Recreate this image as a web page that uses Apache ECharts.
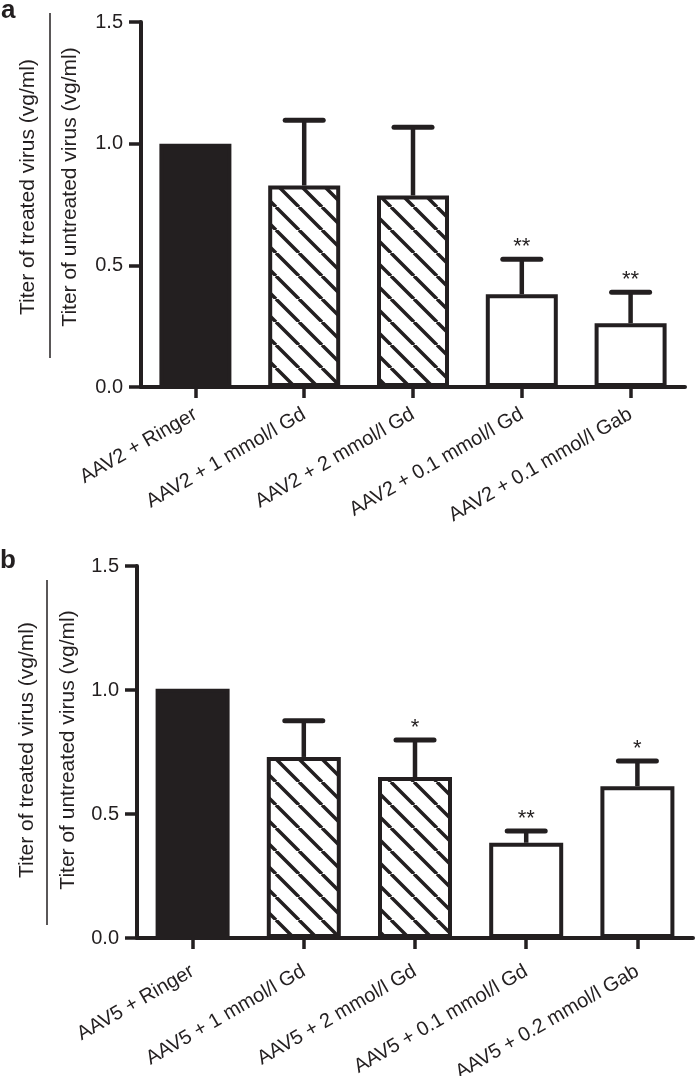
<!DOCTYPE html>
<html>
<head>
<meta charset="utf-8">
<script src="https://cdn.jsdelivr.net/npm/echarts@6/dist/echarts.min.js"></script>
<style>
html,body{margin:0;padding:0;background:#fff;}
#chart{width:700px;height:1076px;}
</style>
</head>
<body>
<div id="chart"></div>
<script>
// ---- data ----
const catsA = ['AAV2 + Ringer', 'AAV2 + 1 mmol/l Gd', 'AAV2 + 2 mmol/l Gd', 'AAV2 + 0.1 mmol/l Gd', 'AAV2 + 0.1 mmol/l Gab'];
const meanA = [1.0, 0.828, 0.787, 0.381, 0.262];
const upperA = [null, 1.096, 1.067, 0.525, 0.389];
const starsA = ['', '', '', '**', '**'];

const catsB = ['AAV5 + Ringer', 'AAV5 + 1 mmol/l Gd', 'AAV5 + 2 mmol/l Gd', 'AAV5 + 0.1 mmol/l Gd', 'AAV5 + 0.2 mmol/l Gab'];
const meanB = [1.005, 0.730, 0.649, 0.384, 0.612];
const upperB = [null, 0.876, 0.798, 0.431, 0.714];
const starsB = ['', '', '*', '**', '*'];

const yMin = 0, yMax = 1.5, yStep = 0.5;
const yTitle1 = 'Titer of treated virus (vg/ml)';
const yTitle2 = 'Titer of untreated virus (vg/ml)';
const panelLabels = ['a', 'b'];

// ---- styles ----
const INK = '#231f20';
const FONT = '"Liberation Sans", Arial, Helvetica, sans-serif';
const fillKinds = ['solid', 'hatch', 'hatch', 'open', 'open'];

function hatchCanvas() {
  const s = 23;
  const c = document.createElement('canvas');
  c.width = s; c.height = s;
  const g = c.getContext('2d');
  g.fillStyle = '#fff';
  g.fillRect(0, 0, s, s);
  g.strokeStyle = INK;
  g.lineWidth = 3.5;
  g.beginPath();
  for (let k = -1; k <= 1; k++) {
    g.moveTo(k * s, 0);
    g.lineTo(k * s + s, s);
  }
  g.stroke();
  return c;
}
const hatch = hatchCanvas();

function barData(vals) {
  return vals.map((v, i) => {
    const k = fillKinds[i];
    let color = '#fff';
    if (k === 'solid') color = INK;
    else if (k === 'hatch') color = { image: hatch, repeat: 'repeat' };
    return { value: v, itemStyle: { color: color, borderColor: INK, borderWidth: 4 } };
  });
}

function errData(means, uppers) {
  const out = [];
  means.forEach((m, i) => { if (uppers[i] != null) out.push([i, m, uppers[i]]); });
  return out;
}

function makeRender(stars) {
  return function (params, api) {
    const idx = api.value(0);
    const p0 = api.coord([idx, api.value(1)]);
    const p1 = api.coord([idx, api.value(2)]);
    const children = [
      { type: 'line', shape: { x1: p0[0], y1: p0[1], x2: p1[0], y2: p1[1] },
        style: { stroke: INK, lineWidth: 4.5 } },
      { type: 'line', shape: { x1: p1[0] - 19, y1: p1[1], x2: p1[0] + 19, y2: p1[1] },
        style: { stroke: INK, lineWidth: 5, lineCap: 'round' } }
    ];
    const s = stars[idx];
    if (s) {
      children.push({ type: 'text', x: p1[0], y: p1[1] - 12,
        style: { text: s, fill: INK, font: '22px ' + FONT, textAlign: 'center', textVerticalAlign: 'middle' } });
    }
    return { type: 'group', children: children };
  };
}

const grids = [
  { left: 141, top: 22, width: 544, height: 365, containLabel: false, outerBoundsMode: 'none' },
  { left: 137, top: 566, width: 556, height: 372, containLabel: false, outerBoundsMode: 'none' }
];

function xAxisFor(cats, gi, margin) {
  return {
    type: 'category', gridIndex: gi, data: cats, boundaryGap: true,
    axisLine: { show: true, lineStyle: { color: INK, width: 4 } },
    axisTick: { show: true, alignWithLabel: true, length: 11, lineStyle: { color: INK, width: 3.5 } },
    axisLabel: { rotate: 30, margin: margin, color: INK, fontFamily: FONT, fontSize: 20, interval: 0 },
    splitLine: { show: false }
  };
}
function yAxisFor(gi) {
  return {
    type: 'value', gridIndex: gi, min: yMin, max: yMax, interval: yStep,
    axisLine: { show: true, lineStyle: { color: INK, width: 4 } },
    axisTick: { show: true, length: 12, lineStyle: { color: INK, width: 3.5 } },
    axisLabel: { margin: 18, color: INK, fontFamily: FONT, fontSize: 20, formatter: v => v.toFixed(1) },
    splitLine: { show: false }
  };
}

function yTitleGraphics(cx1, cx2, cy, lineX, ly1, ly2) {
  return [
    { type: 'text', x: cx1, y: cy, rotation: Math.PI / 2,
      style: { text: yTitle1, fill: INK, font: '21px ' + FONT, textAlign: 'center', textVerticalAlign: 'middle' } },
    { type: 'text', x: cx2, y: cy, rotation: Math.PI / 2,
      style: { text: yTitle2, fill: INK, font: '21px ' + FONT, textAlign: 'center', textVerticalAlign: 'middle' } },
    { type: 'line', shape: { x1: lineX, y1: ly1, x2: lineX, y2: ly2 }, style: { stroke: INK, lineWidth: 1.5 } }
  ];
}

const chart = echarts.init(document.getElementById('chart'), null, { renderer: 'canvas' });
chart.setOption({
  backgroundColor: '#fff',
  animation: false,
  grid: grids,
  xAxis: [xAxisFor(catsA, 0, 26), xAxisFor(catsB, 1, 32)],
  yAxis: [yAxisFor(0), yAxisFor(1)],
  series: [
    { type: 'bar', xAxisIndex: 0, yAxisIndex: 0, barWidth: 72, data: barData(meanA), z: 2 },
    { type: 'custom', xAxisIndex: 0, yAxisIndex: 0, renderItem: makeRender(starsA), data: errData(meanA, upperA), z: 3 },
    { type: 'bar', xAxisIndex: 1, yAxisIndex: 1, barWidth: 74, data: barData(meanB), z: 2 },
    { type: 'custom', xAxisIndex: 1, yAxisIndex: 1, renderItem: makeRender(starsB), data: errData(meanB, upperB), z: 3 }
  ],
  graphic: [
    { type: 'text', x: 1, y: 24, style: { text: panelLabels[0], fill: INK, font: 'bold 26px ' + FONT, textVerticalAlign: 'bottom' } },
    { type: 'text', x: 0, y: 574, style: { text: panelLabels[1], fill: INK, font: 'bold 26px ' + FONT, textVerticalAlign: 'bottom' } }
  ].concat(yTitleGraphics(28, 70, 187, 50, 13, 358))
   .concat(yTitleGraphics(27, 68, 750, 47, 580, 925))
});
</script>
</body>
</html>
